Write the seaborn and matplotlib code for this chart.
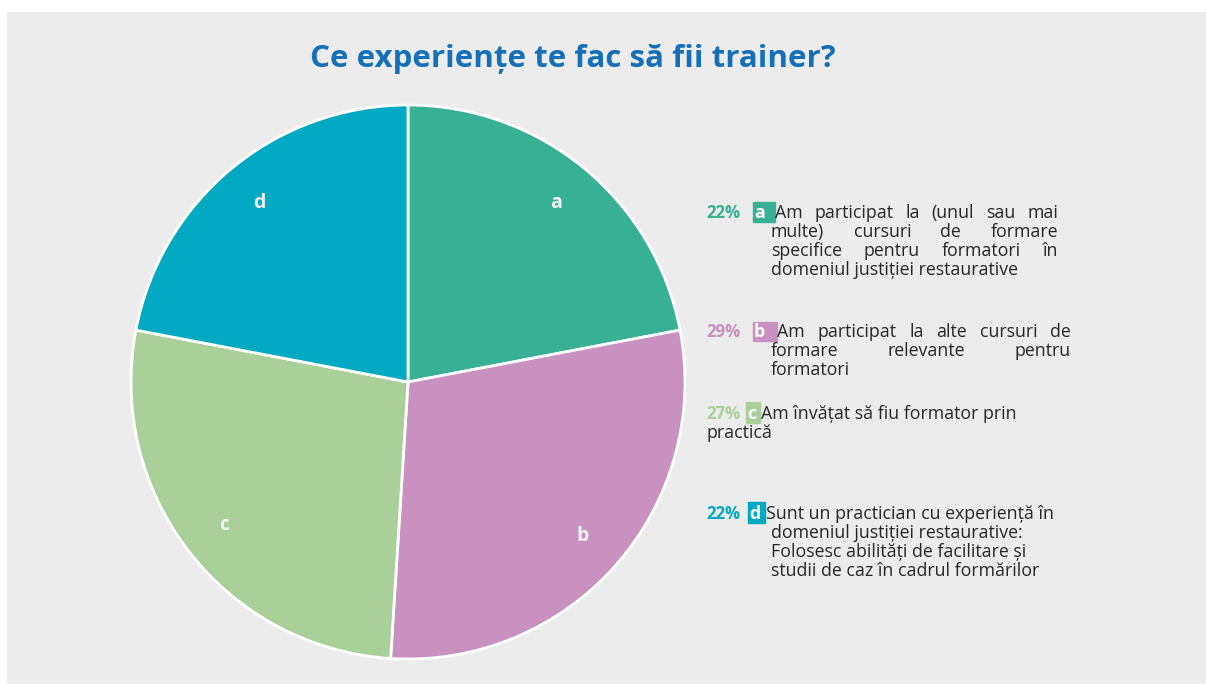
import matplotlib
matplotlib.use('Agg')
import matplotlib.pyplot as plt
import seaborn as sns
from matplotlib.patches import Rectangle

# data
letters = ['a', 'b', 'c', 'd']
shares = [22, 29, 27, 22]
colors = ['#38b094', '#c891c0', '#a9d099', '#02a9c2']
title = 'Ce experiențe te fac să fii trainer?'

# legend text, split in lines as in the original (True = justified line)
desc_a = [('Am participat la (unul sau mai', True),
          ('multe) cursuri de formare', True),
          ('specifice pentru formatori în', True),
          ('domeniul justiției restaurative', False)]
desc_b = [('Am participat la alte cursuri de', True),
          ('formare relevante pentru', True),
          ('formatori', False)]
desc_c = [('Am învățat să fiu formator prin', False),
          ('practică', False)]
desc_d = [('Sunt un practician cu experiență în', False),
          ('domeniul justiției restaurative:', False),
          ('Folosesc abilități de facilitare și', False),
          ('studii de caz în cadrul formărilor', False)]
descs = [desc_a, desc_b, desc_c, desc_d]

W, H = 1206, 684
BG = '#ebeceb'

sns.set_style('white')
plt.rcParams['font.family'] = ['Open Sans', 'DejaVu Sans']

fig = plt.figure(figsize=(W / 100, H / 100), dpi=100)
fig.patch.set_facecolor('white')
fig.add_artist(Rectangle((7 / W, 0), 1 - 7 / W, (H - 12) / H,
                         transform=fig.transFigure, color=BG, zorder=0))


def fx(x):
    return x / W


def fy(y):
    return 1 - y / H


# pie
cx, cy, r = 408, 382, 277 * 1.01
ax = fig.add_axes([fx(cx - r), fy(cy + r), 2 * r / W, 2 * r / H])
ax.pie(shares, colors=colors, startangle=90, counterclock=False,
       labels=letters, labeldistance=0.84,
       wedgeprops=dict(edgecolor='white', linewidth=2),
       textprops=dict(color='#f2f2f2', fontsize=14, fontweight='bold'))
for t in ax.texts:
    t.set_ha('center')
    t.set_va('center')
ax.set_xlim(-1.01, 1.01)
ax.set_ylim(-1.01, 1.01)
ax.set_facecolor('none')
ax.axis('off')

fig.text(fx(573), fy(59), title, ha='center', va='center',
         fontsize=22.5, fontweight='bold', color='#1570b8')

# legend
FS = 12.8
TXT = '#262626'
renderer = fig.canvas.get_renderer()

# per item: baseline of first line, x of first line text, x of other lines,
# right edge for justified lines, line step, box (x0, x1, y0, y1)
layout = [
    (218, 775, 771, 1058, 19, (753, 775, 202, 222)),
    (337, 777, 771, 1071, 19, (753, 777, 322, 341)),
    (419, 761, 706, 1000, 19, (746, 760, 402, 423)),
    (519, 766, 771, 1100, 19, (748, 765, 502, 523)),
]


def draw_line(text, x0, x1, y, justify):
    if not justify:
        fig.text(fx(x0), fy(y), text, ha='left', va='baseline',
                 fontsize=FS, color=TXT)
        return
    words = text.split(' ')
    arts = [fig.text(0, fy(y), w, ha='left', va='baseline',
                     fontsize=FS, color=TXT) for w in words]
    widths = [a.get_window_extent(renderer).width for a in arts]
    gap = (x1 - x0 - sum(widths)) / (len(words) - 1)
    x = x0
    for a, w in zip(arts, widths):
        a.set_x(fx(x))
        x += w + gap


for i, (y0, xt, xn, xr, step, box) in enumerate(layout):
    col = colors[i]
    fig.text(fx(706), fy(y0), f'{shares[i]}%', ha='left', va='baseline',
             fontsize=FS - 0.6, fontweight='bold', color=col)
    bx0, bx1, by0, by1 = box
    fig.add_artist(Rectangle((fx(bx0), fy(by1)), (bx1 - bx0) / W, (by1 - by0) / H,
                             transform=fig.transFigure, color=col, zorder=1))
    fig.text(fx(bx0 + 1), fy(y0), letters[i], ha='left', va='baseline',
             fontsize=FS, fontweight='bold', color='white', zorder=2)
    for j, (line, just) in enumerate(descs[i]):
        x_start = xt if j == 0 else xn
        draw_line(line, x_start, xr, y0 + j * step, just)

fig.savefig('out.png', dpi=100, facecolor=fig.get_facecolor())
